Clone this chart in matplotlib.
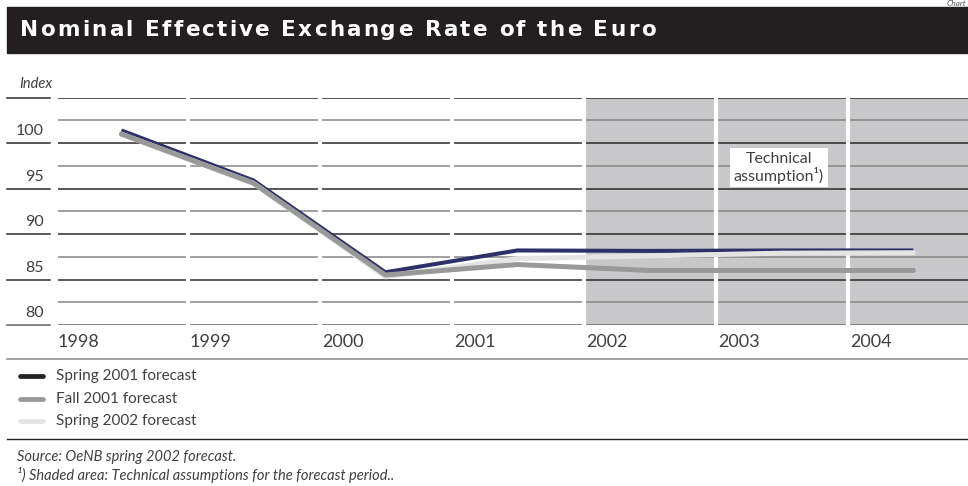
import numpy as np
import matplotlib
matplotlib.use('Agg')
from matplotlib import pyplot as plt
from matplotlib import transforms
from matplotlib.lines import Line2D
from matplotlib.patches import Rectangle

# index values read per year (Spring 2001 / Fall 2001 / Spring 2002 forecasts)
years = [1998, 1999, 2000, 2001, 2002, 2003, 2004]
spring_2001 = [101.4, 95.9, 85.8, 88.2, 88.15, 88.2, 88.2]
fall_2001 = [101.0, 95.6, 85.5, 86.65, 86.0, 86.0, 86.0]
spring_2002 = [101.0, 95.6, 85.3, 87.3, 87.6, 87.9, 87.95]
y_labels = [80, 85, 90, 95, 100]
series_names = ['Spring 2001 forecast', 'Fall 2001 forecast', 'Spring 2002 forecast']
forecast_start = 2002
title = 'Nominal Effective Exchange Rate of the Euro'

W, H = 968, 486
FONT = 'Lato'
TXT = '#404040'


def fx(px):
    return px / W


def fy(py):
    return 1 - py / H


fig = plt.figure(figsize=(W / 100, H / 100), dpi=100)
renderer = fig.canvas.get_renderer()

# title bar, with the heading drawn letter by letter for wider tracking
fig.patches.append(Rectangle((fx(7), fy(53)), 1 - fx(7), 46 / H,
                             transform=fig.transFigure, color='#231f20', zorder=0))
tracking = 2.2
title_style = dict(color='white', fontsize=15.5, fontweight='bold',
                   family='DejaVu Sans', va='center', ha='left')
for i, ch in enumerate(title):
    probe = fig.text(0, 0, title[:i] + '|', **title_style)
    bar = fig.text(0, 0, '|', **title_style)
    offset = probe.get_window_extent(renderer).width - bar.get_window_extent(renderer).width
    probe.remove()
    bar.remove()
    fig.text(fx(20 + offset + i * tracking), fy(30), ch, **title_style)

fig.text(fx(966), fy(6.5), 'Chart', color='#555555', fontsize=6, style='italic',
         family=FONT, va='baseline', ha='right')

px_per_year = 132
ax = fig.add_axes([fx(58), fy(325), 1 - fx(58), (325 - 97.7) / H])
x_right = 1998 + (W - 58) / px_per_year
ax.set_xlim(1998, x_right)
ax.set_ylim(80, 105)
ax.axis('off')

# shaded forecast period and horizontal rules
ax.axvspan(forecast_start, x_right, color='#c8c8ca', lw=0, zorder=0)
for v in np.arange(80, 105.1, 2.5):
    if v == 80:
        c = '#666666'
    elif v % 5 == 0:
        c = '#2a2a2a'
    else:
        c = '#858585'
    ax.axhline(v, color=c, lw=1.1, zorder=1)

# white gaps between the year columns
for yr in years[1:]:
    ax.axvline(yr - 2 / px_per_year, color='white', lw=3.0, zorder=2)

x = np.array(years) + 0.48
ax.plot(x, spring_2001, color='#2e3168', lw=2.9, solid_capstyle='butt', zorder=3)
ax.plot(x, spring_2002, color='#e4e4e4', lw=3.6, solid_capstyle='round', zorder=4)
ax.plot(x, fall_2001, color='#999999', lw=3.6, solid_capstyle='round', zorder=5)

ax.text(1998 + (779 - 58) / px_per_year, 97.3, 'Technical\nassumption¹)',
        ha='center', va='center', multialignment='center', family=FONT,
        fontsize=11.5, color=TXT, linespacing=1.05,
        bbox=dict(facecolor='white', edgecolor='none', pad=2.5), zorder=6)

# year labels at the left of each column
for yr in years:
    ax.text(yr, 80 - 16.7 / 9.1, str(yr), ha='left', va='center', family=FONT,
            fontsize=13, color=TXT, clip_on=False)

# left value column
blend = transforms.blended_transform_factory(fig.transFigure, ax.transData)
for v in y_labels + [105]:
    fig.add_artist(Line2D([fx(7), fx(50)], [v, v], transform=blend,
                          color='#2a2a2a' if v != 80 else '#666666', lw=1.1))
for v in y_labels:
    ax.annotate(str(v), xy=(fx(44), v), xycoords=blend, xytext=(0, 8.4),
                textcoords='offset points', ha='right', va='center',
                family=FONT, fontsize=11.5, color=TXT)
fig.text(fx(52), fy(84), 'Index', ha='right', va='center', family=FONT,
         style='italic', fontsize=10.5, color=TXT)

# separators, legend and notes
fig.add_artist(Line2D([fx(7), 1], [fy(359.3)] * 2, color='#888888', lw=1.1))
fig.add_artist(Line2D([fx(7), 1], [fy(439)] * 2, color='#222222', lw=1.0))

legend_colors = ['#222226', '#999999', '#e4e4e4']
for i, (name, c) in enumerate(zip(series_names, legend_colors)):
    yy = 376 + i * 22.5
    fig.add_artist(Line2D([fx(20), fx(43)], [fy(yy)] * 2, color=c, lw=3.4,
                          solid_capstyle='round'))
    fig.text(fx(56), fy(yy), name, ha='left', va='center', family=FONT,
             fontsize=11, color=TXT)

fig.text(fx(17), fy(456.7), 'Source: OeNB spring 2002 forecast.', ha='left',
         va='center', family=FONT, style='italic', fontsize=10.5, color=TXT)
fig.text(fx(17), fy(475), '¹) Shaded area: Technical assumptions for the forecast period..',
         ha='left', va='center', family=FONT, style='italic', fontsize=10.5, color=TXT)

fig.savefig('out.png', dpi=100)
